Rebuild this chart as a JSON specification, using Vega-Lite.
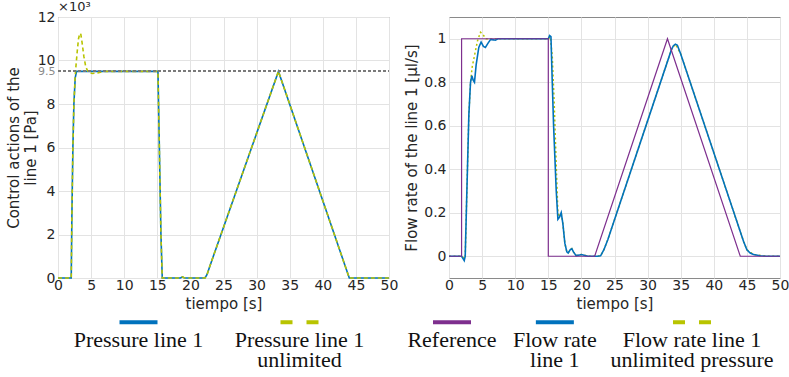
{
  "$schema": "https://vega.github.io/schema/vega-lite/v6.json",
  "background": "white",
  "padding": {"left": 5, "right": 2, "top": 0, "bottom": 0},
  "config": {
    "font": "DejaVu Sans",
    "view": {"stroke": "#8a8a8a", "strokeWidth": 1},
    "axis": {
      "labelFont": "DejaVu Sans", "labelFontSize": 14, "labelColor": "#262626",
      "titleFont": "DejaVu Sans", "titleFontSize": 15, "titleFontWeight": "normal", "titleColor": "#262626",
      "gridColor": "#e3e3e3", "gridWidth": 1, "domain": false, "ticks": false, "labelPadding": 3
    },
    "axisX": {"labelFlush": false, "labelPadding": 0, "titlePadding": 4}
  },
  "resolve": {"scale": {"color": "independent", "strokeDash": "independent"}},
  "datasets": {
    "left": [
      {"t": 0, "v": 0, "s": "Pressure line 1"}, {"t": 2.0, "v": 0, "s": "Pressure line 1"}, {"t": 2.1, "v": 2.9, "s": "Pressure line 1"},
      {"t": 2.25, "v": 6.0, "s": "Pressure line 1"}, {"t": 2.4, "v": 8.0, "s": "Pressure line 1"}, {"t": 2.6, "v": 9.2, "s": "Pressure line 1"},
      {"t": 2.8, "v": 9.5, "s": "Pressure line 1"}, {"t": 15.1, "v": 9.5, "s": "Pressure line 1"}, {"t": 15.25, "v": 7.0, "s": "Pressure line 1"},
      {"t": 15.4, "v": 4.5, "s": "Pressure line 1"}, {"t": 15.55, "v": 2.0, "s": "Pressure line 1"}, {"t": 15.75, "v": 0, "s": "Pressure line 1"},
      {"t": 18.5, "v": 0, "s": "Pressure line 1"}, {"t": 18.8, "v": 0.05, "s": "Pressure line 1"}, {"t": 19.1, "v": 0, "s": "Pressure line 1"},
      {"t": 22.2, "v": 0, "s": "Pressure line 1"}, {"t": 22.5, "v": 0.15, "s": "Pressure line 1"}, {"t": 23.0, "v": 0.6, "s": "Pressure line 1"},
      {"t": 33.3, "v": 9.5, "s": "Pressure line 1"}, {"t": 44.0, "v": 0, "s": "Pressure line 1"}, {"t": 50, "v": 0, "s": "Pressure line 1"},
      {"t": 0, "v": 0, "s": "Pressure line 1 unlimited"}, {"t": 2.0, "v": 0, "s": "Pressure line 1 unlimited"}, {"t": 2.1, "v": 2.9, "s": "Pressure line 1 unlimited"},
      {"t": 2.25, "v": 6.0, "s": "Pressure line 1 unlimited"}, {"t": 2.4, "v": 8.0, "s": "Pressure line 1 unlimited"}, {"t": 2.6, "v": 9.3, "s": "Pressure line 1 unlimited"},
      {"t": 2.7, "v": 9.7, "s": "Pressure line 1 unlimited"}, {"t": 2.9, "v": 10.4, "s": "Pressure line 1 unlimited"}, {"t": 3.1, "v": 11.0, "s": "Pressure line 1 unlimited"},
      {"t": 3.3, "v": 11.25, "s": "Pressure line 1 unlimited"}, {"t": 3.45, "v": 11.2, "s": "Pressure line 1 unlimited"}, {"t": 3.65, "v": 10.8, "s": "Pressure line 1 unlimited"},
      {"t": 3.9, "v": 10.2, "s": "Pressure line 1 unlimited"}, {"t": 4.2, "v": 9.7, "s": "Pressure line 1 unlimited"}, {"t": 4.6, "v": 9.45, "s": "Pressure line 1 unlimited"},
      {"t": 5.2, "v": 9.4, "s": "Pressure line 1 unlimited"}, {"t": 6.0, "v": 9.43, "s": "Pressure line 1 unlimited"}, {"t": 7.0, "v": 9.5, "s": "Pressure line 1 unlimited"},
      {"t": 15.1, "v": 9.5, "s": "Pressure line 1 unlimited"}, {"t": 15.25, "v": 7.0, "s": "Pressure line 1 unlimited"}, {"t": 15.4, "v": 4.5, "s": "Pressure line 1 unlimited"},
      {"t": 15.55, "v": 2.0, "s": "Pressure line 1 unlimited"}, {"t": 15.75, "v": 0, "s": "Pressure line 1 unlimited"}, {"t": 18.5, "v": 0, "s": "Pressure line 1 unlimited"},
      {"t": 18.8, "v": 0.05, "s": "Pressure line 1 unlimited"}, {"t": 19.1, "v": 0, "s": "Pressure line 1 unlimited"}, {"t": 22.2, "v": 0, "s": "Pressure line 1 unlimited"},
      {"t": 22.5, "v": 0.15, "s": "Pressure line 1 unlimited"}, {"t": 23.0, "v": 0.6, "s": "Pressure line 1 unlimited"}, {"t": 33.3, "v": 9.5, "s": "Pressure line 1 unlimited"},
      {"t": 44.0, "v": 0, "s": "Pressure line 1 unlimited"}, {"t": 50, "v": 0, "s": "Pressure line 1 unlimited"}
    ],
    "right": [
      {"t": 0, "v": 0, "s": "Reference"}, {"t": 1.9, "v": 0, "s": "Reference"}, {"t": 1.9, "v": 1, "s": "Reference"}, {"t": 15, "v": 1, "s": "Reference"},
      {"t": 15, "v": 0, "s": "Reference"}, {"t": 22, "v": 0, "s": "Reference"}, {"t": 33, "v": 1, "s": "Reference"}, {"t": 44, "v": 0, "s": "Reference"}, {"t": 50, "v": 0, "s": "Reference"},
      {"t": 0, "v": 0, "s": "Flow rate line 1"}, {"t": 1.9, "v": 0, "s": "Flow rate line 1"}, {"t": 2.1, "v": -0.01, "s": "Flow rate line 1"},
      {"t": 2.3, "v": -0.02, "s": "Flow rate line 1"}, {"t": 2.45, "v": 0, "s": "Flow rate line 1"}, {"t": 2.7, "v": 0.3, "s": "Flow rate line 1"},
      {"t": 3.0, "v": 0.65, "s": "Flow rate line 1"}, {"t": 3.25, "v": 0.8, "s": "Flow rate line 1"}, {"t": 3.45, "v": 0.83, "s": "Flow rate line 1"},
      {"t": 3.65, "v": 0.81, "s": "Flow rate line 1"}, {"t": 3.85, "v": 0.8, "s": "Flow rate line 1"}, {"t": 4.1, "v": 0.88, "s": "Flow rate line 1"},
      {"t": 4.5, "v": 0.96, "s": "Flow rate line 1"}, {"t": 4.85, "v": 0.985, "s": "Flow rate line 1"}, {"t": 5.2, "v": 0.965, "s": "Flow rate line 1"},
      {"t": 5.5, "v": 0.96, "s": "Flow rate line 1"}, {"t": 5.9, "v": 0.98, "s": "Flow rate line 1"}, {"t": 6.3, "v": 0.997, "s": "Flow rate line 1"},
      {"t": 6.7, "v": 0.995, "s": "Flow rate line 1"}, {"t": 7.0, "v": 0.993, "s": "Flow rate line 1"}, {"t": 7.4, "v": 1.0, "s": "Flow rate line 1"},
      {"t": 15.0, "v": 1.0, "s": "Flow rate line 1"}, {"t": 15.2, "v": 1.015, "s": "Flow rate line 1"}, {"t": 15.4, "v": 1.01, "s": "Flow rate line 1"},
      {"t": 15.6, "v": 0.8, "s": "Flow rate line 1"}, {"t": 15.8, "v": 0.6, "s": "Flow rate line 1"}, {"t": 16.0, "v": 0.45, "s": "Flow rate line 1"},
      {"t": 16.2, "v": 0.3, "s": "Flow rate line 1"}, {"t": 16.45, "v": 0.17, "s": "Flow rate line 1"}, {"t": 16.7, "v": 0.18, "s": "Flow rate line 1"},
      {"t": 16.95, "v": 0.2, "s": "Flow rate line 1"}, {"t": 17.2, "v": 0.15, "s": "Flow rate line 1"}, {"t": 17.5, "v": 0.06, "s": "Flow rate line 1"},
      {"t": 17.8, "v": 0.02, "s": "Flow rate line 1"}, {"t": 18.0, "v": 0.015, "s": "Flow rate line 1"}, {"t": 18.3, "v": 0.03, "s": "Flow rate line 1"},
      {"t": 18.55, "v": 0.035, "s": "Flow rate line 1"}, {"t": 18.8, "v": 0.02, "s": "Flow rate line 1"}, {"t": 19.2, "v": 0.003, "s": "Flow rate line 1"},
      {"t": 19.6, "v": 0.005, "s": "Flow rate line 1"}, {"t": 20.0, "v": 0.008, "s": "Flow rate line 1"}, {"t": 20.4, "v": 0.005, "s": "Flow rate line 1"},
      {"t": 21.0, "v": 0, "s": "Flow rate line 1"}, {"t": 22.4, "v": 0, "s": "Flow rate line 1"}, {"t": 22.9, "v": 0.002, "s": "Flow rate line 1"},
      {"t": 23.4, "v": 0.03, "s": "Flow rate line 1"}, {"t": 24.0, "v": 0.077, "s": "Flow rate line 1"}, {"t": 33.6, "v": 0.95, "s": "Flow rate line 1"},
      {"t": 33.9, "v": 0.968, "s": "Flow rate line 1"}, {"t": 34.2, "v": 0.975, "s": "Flow rate line 1"}, {"t": 34.5, "v": 0.97, "s": "Flow rate line 1"},
      {"t": 35.0, "v": 0.93, "s": "Flow rate line 1"}, {"t": 44.5, "v": 0.068, "s": "Flow rate line 1"}, {"t": 45.0, "v": 0.03, "s": "Flow rate line 1"},
      {"t": 45.5, "v": 0.015, "s": "Flow rate line 1"}, {"t": 46.0, "v": 0.008, "s": "Flow rate line 1"}, {"t": 47.0, "v": 0.002, "s": "Flow rate line 1"},
      {"t": 48.0, "v": 0, "s": "Flow rate line 1"}, {"t": 50, "v": 0, "s": "Flow rate line 1"},
      {"t": 0, "v": 0, "s": "Flow rate line 1 unlimited pressure"}, {"t": 1.9, "v": 0, "s": "Flow rate line 1 unlimited pressure"}, {"t": 2.3, "v": -0.01, "s": "Flow rate line 1 unlimited pressure"},
      {"t": 2.45, "v": 0, "s": "Flow rate line 1 unlimited pressure"}, {"t": 2.7, "v": 0.3, "s": "Flow rate line 1 unlimited pressure"}, {"t": 3.0, "v": 0.65, "s": "Flow rate line 1 unlimited pressure"},
      {"t": 3.25, "v": 0.8, "s": "Flow rate line 1 unlimited pressure"}, {"t": 3.5, "v": 0.87, "s": "Flow rate line 1 unlimited pressure"}, {"t": 3.9, "v": 0.93, "s": "Flow rate line 1 unlimited pressure"},
      {"t": 4.3, "v": 0.99, "s": "Flow rate line 1 unlimited pressure"}, {"t": 4.75, "v": 1.03, "s": "Flow rate line 1 unlimited pressure"}, {"t": 5.1, "v": 1.02, "s": "Flow rate line 1 unlimited pressure"},
      {"t": 5.6, "v": 1.0, "s": "Flow rate line 1 unlimited pressure"}, {"t": 6.0, "v": 0.998, "s": "Flow rate line 1 unlimited pressure"}, {"t": 7.0, "v": 1.0, "s": "Flow rate line 1 unlimited pressure"},
      {"t": 15.0, "v": 1.0, "s": "Flow rate line 1 unlimited pressure"}, {"t": 15.3, "v": 1.01, "s": "Flow rate line 1 unlimited pressure"}, {"t": 15.6, "v": 0.92, "s": "Flow rate line 1 unlimited pressure"},
      {"t": 15.9, "v": 0.7, "s": "Flow rate line 1 unlimited pressure"}, {"t": 16.2, "v": 0.42, "s": "Flow rate line 1 unlimited pressure"}, {"t": 16.45, "v": 0.2, "s": "Flow rate line 1 unlimited pressure"},
      {"t": 16.7, "v": 0.18, "s": "Flow rate line 1 unlimited pressure"}, {"t": 16.95, "v": 0.2, "s": "Flow rate line 1 unlimited pressure"}, {"t": 17.2, "v": 0.15, "s": "Flow rate line 1 unlimited pressure"},
      {"t": 17.5, "v": 0.06, "s": "Flow rate line 1 unlimited pressure"}, {"t": 17.8, "v": 0.02, "s": "Flow rate line 1 unlimited pressure"}, {"t": 18.0, "v": 0.015, "s": "Flow rate line 1 unlimited pressure"},
      {"t": 18.3, "v": 0.03, "s": "Flow rate line 1 unlimited pressure"}, {"t": 18.55, "v": 0.035, "s": "Flow rate line 1 unlimited pressure"}, {"t": 18.8, "v": 0.02, "s": "Flow rate line 1 unlimited pressure"},
      {"t": 19.2, "v": 0.003, "s": "Flow rate line 1 unlimited pressure"}, {"t": 20.0, "v": 0.008, "s": "Flow rate line 1 unlimited pressure"}, {"t": 21.0, "v": 0, "s": "Flow rate line 1 unlimited pressure"},
      {"t": 22.4, "v": 0, "s": "Flow rate line 1 unlimited pressure"}, {"t": 22.9, "v": 0.002, "s": "Flow rate line 1 unlimited pressure"}, {"t": 23.4, "v": 0.03, "s": "Flow rate line 1 unlimited pressure"},
      {"t": 24.0, "v": 0.077, "s": "Flow rate line 1 unlimited pressure"}, {"t": 33.6, "v": 0.95, "s": "Flow rate line 1 unlimited pressure"}, {"t": 34.2, "v": 0.975, "s": "Flow rate line 1 unlimited pressure"},
      {"t": 35.0, "v": 0.93, "s": "Flow rate line 1 unlimited pressure"}, {"t": 44.5, "v": 0.068, "s": "Flow rate line 1 unlimited pressure"}, {"t": 45.0, "v": 0.03, "s": "Flow rate line 1 unlimited pressure"},
      {"t": 46.0, "v": 0.008, "s": "Flow rate line 1 unlimited pressure"}, {"t": 48.0, "v": 0, "s": "Flow rate line 1 unlimited pressure"}, {"t": 50, "v": 0, "s": "Flow rate line 1 unlimited pressure"}
    ],
    "legL": [
      {"s": "Pressure line 1", "label": "Pressure line 1"},
      {"s": "Pressure line 1 unlimited", "label": "Pressure line 1\nunlimited"}
    ],
    "legR": [
      {"s": "Reference", "label": "Reference"},
      {"s": "Flow rate line 1", "label": "Flow rate\nline 1"},
      {"s": "Flow rate line 1 unlimited pressure", "label": "Flow rate line 1\nunlimited pressure"}
    ]
  },
  "spacing": 5,
  "hconcat": [
    {
      "spacing": 2,
      "vconcat": [
        {
          "width": 331, "height": 261,
          "data": {"name": "left"},
          "title": {"text": "×10³", "anchor": "start", "frame": "group", "fontSize": 13, "fontWeight": "normal", "color": "#262626", "font": "DejaVu Sans", "offset": -4},
          "encoding": {
            "x": {"field": "t", "type": "quantitative", "scale": {"domain": [0, 50], "nice": false},
                  "axis": {"values": [0, 5, 10, 15, 20, 25, 30, 35, 40, 45, 50], "title": "tiempo [s]"}},
            "y": {"field": "v", "type": "quantitative", "scale": {"domain": [0, 12], "nice": false},
                  "axis": {"values": [0, 2, 4, 6, 8, 9.5, 10, 12], "format": "~g", "labelOverlap": false,
                           "title": ["Control actions of the", "line 1 [Pa]"], "titlePadding": -1,
                           "labelColor": {"condition": {"test": "datum.value === 9.5", "value": "#8c8c8c"}, "value": "#262626"},
                           "labelFontSize": {"condition": {"test": "datum.value === 9.5", "value": 11}, "value": 14},
                           "gridOpacity": {"condition": {"test": "datum.value === 9.5", "value": 0}, "value": 1}}},
            "order": {"value": null}
          },
          "layer": [
            {"transform": [{"filter": "datum.s === 'Pressure line 1'"}], "mark": {"type": "line", "color": "#0072BD", "strokeWidth": 1.6}},
            {"transform": [{"filter": "datum.s === 'Pressure line 1 unlimited'"}], "mark": {"type": "line", "color": "#B8C400", "strokeWidth": 1.6, "strokeDash": [4, 3]}},
            {"mark": {"type": "rule", "color": "#7a7a7a", "strokeWidth": 0.6, "strokeDash": [3, 2]}, "encoding": {"y": {"datum": 9.5}, "x": {"datum": 0}, "x2": {"datum": 50}}}
          ]
        },
        {
          "width": 322, "height": 52,
          "view": {"stroke": null},
          "data": {"name": "legL"},
          "encoding": {
            "x": {"field": "s", "type": "nominal", "scale": {"type": "point", "padding": 0.5, "domain": ["Pressure line 1", "Pressure line 1 unlimited"]}, "axis": null}
          },
          "layer": [
            {"mark": {"type": "point", "shape": "M-1,0L1,0", "size": 1444, "filled": false, "strokeWidth": 4, "opacity": 1, "strokeCap": "butt"},
             "encoding": {
               "y": {"datum": 0.92, "type": "quantitative", "scale": {"domain": [0, 1]}, "axis": null},
               "color": {"field": "s", "type": "nominal", "scale": {"domain": ["Pressure line 1", "Pressure line 1 unlimited"], "range": ["#0072BD", "#B8C400"]}, "legend": null},
               "strokeDash": {"field": "s", "type": "nominal", "scale": {"domain": ["Pressure line 1", "Pressure line 1 unlimited"], "range": [[1, 0], [12, 14]]}, "legend": null}
             }},
            {"mark": {"type": "text", "font": "Liberation Serif", "fontSize": 22, "lineBreak": "\n", "lineHeight": 20, "baseline": "top", "align": "center", "color": "#111"},
             "encoding": {"y": {"datum": 0.76, "type": "quantitative", "scale": {"domain": [0, 1]}, "axis": null}, "text": {"field": "label"}}}
          ]
        }
      ]
    },
    {
      "spacing": 2,
      "vconcat": [
        {
          "width": 331, "height": 261,
          "data": {"name": "right"},
          "encoding": {
            "x": {"field": "t", "type": "quantitative", "scale": {"domain": [0, 50], "nice": false},
                  "axis": {"values": [0, 5, 10, 15, 20, 25, 30, 35, 40, 45, 50], "title": "tiempo [s]"}},
            "y": {"field": "v", "type": "quantitative", "scale": {"domain": [-0.1, 1.1], "nice": false, "zero": false},
                  "axis": {"values": [0, 0.2, 0.4, 0.6, 0.8, 1], "format": "~g", "title": "Flow rate of the line 1 [µl/s]", "titlePadding": 4}},
            "order": {"value": null}
          },
          "layer": [
            {"transform": [{"filter": "datum.s === 'Flow rate line 1 unlimited pressure'"}], "mark": {"type": "line", "color": "#B8C400", "strokeWidth": 1.5, "strokeDash": [2, 2.5]}},
            {"transform": [{"filter": "datum.s === 'Flow rate line 1'"}], "mark": {"type": "line", "color": "#0072BD", "strokeWidth": 1.6}},
            {"transform": [{"filter": "datum.s === 'Reference'"}], "mark": {"type": "line", "color": "#7E2F8E", "strokeWidth": 1.2}}
          ]
        },
        {
          "width": 246, "height": 52,
          "view": {"stroke": null},
          "data": {"name": "legR"},
          "encoding": {
            "x": {"field": "s", "type": "nominal", "scale": {"type": "point", "padding": 0.0875, "domain": ["Reference", "_a", "_b", "Flow rate line 1", "_c", "_d", "_e", "Flow rate line 1 unlimited pressure"]}, "axis": null}
          },
          "layer": [
            {"mark": {"type": "point", "shape": "M-1,0L1,0", "size": 1444, "filled": false, "strokeWidth": 4, "opacity": 1, "strokeCap": "butt"},
             "encoding": {
               "y": {"datum": 0.92, "type": "quantitative", "scale": {"domain": [0, 1]}, "axis": null},
               "color": {"field": "s", "type": "nominal", "scale": {"domain": ["Reference", "Flow rate line 1", "Flow rate line 1 unlimited pressure"], "range": ["#7E2F8E", "#0072BD", "#B8C400"]}, "legend": null},
               "strokeDash": {"field": "s", "type": "nominal", "scale": {"domain": ["Reference", "Flow rate line 1", "Flow rate line 1 unlimited pressure"], "range": [[1, 0], [1, 0], [12, 14]]}, "legend": null}
             }},
            {"mark": {"type": "text", "font": "Liberation Serif", "fontSize": 22, "lineBreak": "\n", "lineHeight": 20, "baseline": "top", "align": "center", "color": "#111"},
             "encoding": {"y": {"datum": 0.76, "type": "quantitative", "scale": {"domain": [0, 1]}, "axis": null}, "text": {"field": "label"}}}
          ]
        }
      ]
    }
  ]
}
